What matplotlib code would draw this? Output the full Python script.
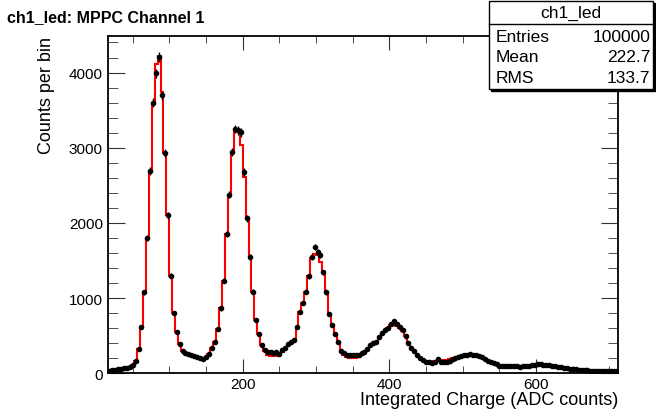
import numpy as np
import matplotlib
matplotlib.use("Agg")
import matplotlib.pyplot as plt
from matplotlib.patches import Rectangle
from matplotlib.ticker import MultipleLocator

plt.rcParams['font.family'] = ['Liberation Sans', 'DejaVu Sans']

# histogram binning (ADC counts)
bin_lo, bin_hi, bin_w = 16, 712, 4

# measured counts per bin (black points)
data_counts = [
    30, 40, 48, 55, 60, 65, 72, 90, 110, 170,
    320, 610, 1080, 1800, 2690, 3600, 3990, 4210, 3700, 2930,
    2100, 1300, 800, 545, 390, 300, 270, 255, 240, 228,
    215, 205, 195, 215, 260, 335, 412, 589, 864, 1232,
    1852, 2375, 2947, 3250, 3230, 3205, 2681, 2061, 1542, 1085,
    713, 523, 376, 314, 279, 279, 270, 285, 257, 314,
    341, 386, 412, 447, 620, 819, 935, 1085, 1290, 1542,
    1676, 1617, 1573, 1343, 1077, 789, 640, 523, 412, 300,
    270, 250, 240, 242, 243, 245, 265, 285, 320, 370,
    400, 412, 480, 540, 580, 600, 656, 695, 660, 620,
    570, 500, 400, 330, 290, 240, 205, 175, 155, 155,
    135, 150, 185, 155, 155, 150, 160, 190, 210, 212,
    235, 240, 250, 257, 245, 243, 225, 212, 185, 165,
    146, 135, 120, 101, 98, 95, 95, 92, 95, 92,
    90, 92, 95, 100, 108, 115, 124, 118, 112, 110,
    105, 98, 92, 85, 78, 72, 66, 60, 56, 52,
    48, 45, 42, 40, 37, 35, 33, 32, 31, 30,
    30, 29, 28, 27,
]

# reference histogram (red line)
ref_counts = [
    30, 40, 48, 55, 60, 65, 72, 90, 110, 170,
    320, 610, 1080, 1800, 2690, 3600, 4110, 4225, 3745, 2930,
    2100, 1300, 800, 545, 390, 300, 270, 255, 240, 228,
    215, 205, 195, 215, 260, 335, 412, 589, 864, 1232,
    1852, 2375, 2947, 3205, 3210, 3040, 2610, 2061, 1542, 1085,
    713, 523, 376, 290, 250, 235, 225, 228, 240, 280,
    330, 386, 412, 447, 620, 819, 935, 1085, 1290, 1530,
    1586, 1580, 1480, 1343, 1077, 789, 640, 523, 412, 300,
    240, 215, 205, 200, 205, 220, 250, 285, 320, 370,
    400, 412, 480, 540, 580, 600, 640, 645, 630, 600,
    560, 490, 400, 330, 290, 240, 205, 180, 165, 160,
    160, 160, 165, 170, 175, 180, 190, 200, 210, 220,
    230, 238, 245, 245, 243, 240, 225, 210, 185, 165,
    146, 135, 120, 101, 98, 95, 95, 92, 92, 92,
    90, 92, 95, 100, 106, 112, 118, 118, 114, 110,
    105, 98, 92, 85, 78, 72, 66, 60, 56, 52,
    48, 45, 42, 40, 37, 35, 33, 32, 31, 30,
    30, 29, 28, 27,
]

stats_labels = ["Entries", "Mean", "RMS"]
stats_values = ["100000", "222.7", "133.7"]

edges = np.arange(bin_lo, bin_hi + 1, bin_w)
centers = 0.5 * (edges[:-1] + edges[1:])
data = np.array(data_counts, dtype=float)
ref = np.array(ref_counts, dtype=float)

W, H = 656, 410
fig = plt.figure(figsize=(W / 100, H / 100), dpi=100)
ax = fig.add_axes([107.7 / W, 35.7 / H, 510.6 / W, 337.6 / H])

ax.stairs(ref, edges, color="red", lw=1.5, zorder=2)
ax.errorbar(centers, data, yerr=np.sqrt(data), fmt="o", ms=3.0, color="black",
            elinewidth=1.0, capsize=0, zorder=3)

ax.set_xlim(bin_lo, bin_hi)
ax.set_ylim(0, 4490)
ax.xaxis.set_major_locator(MultipleLocator(200))
ax.xaxis.set_minor_locator(MultipleLocator(50))
ax.yaxis.set_major_locator(MultipleLocator(1000))
ax.yaxis.set_minor_locator(MultipleLocator(200))
ax.tick_params(which="both", direction="in", top=True, right=True, labelsize=11,
               color="#333333")
ax.tick_params(axis="y", which="major", length=12, pad=3.5)
ax.tick_params(axis="y", which="minor", length=7)
ax.tick_params(axis="x", which="major", length=10, pad=3)
ax.tick_params(axis="x", which="minor", length=5)
for s in ax.spines.values():
    s.set_linewidth(1.3)

ax.set_xlabel("Integrated Charge (ADC counts)", fontsize=13, loc="right", labelpad=0)
ax.set_ylabel("Counts per bin", fontsize=13, loc="top", labelpad=10)

fig.text(7 / W, 1 - 18 / H, "ch1_led: MPPC Channel 1", fontsize=11.5,
         fontweight="bold", va="center", ha="left")

# stats box
bx0, by0, bx1, by1 = 489, 2, 653, 90
fig.patches.append(Rectangle((bx0 / W + 2 / W, 1 - (by1 + 2) / H), (bx1 - bx0) / W,
                             (by1 - by0) / H, transform=fig.transFigure,
                             facecolor="black", edgecolor="black", zorder=5))
fig.patches.append(Rectangle((bx0 / W, 1 - by1 / H), (bx1 - bx0) / W, (by1 - by0) / H,
                             transform=fig.transFigure, facecolor="white",
                             edgecolor="black", lw=1, zorder=6))
fig.add_artist(plt.Line2D([bx0 / W, bx1 / W], [1 - 25 / H, 1 - 25 / H],
                          transform=fig.transFigure, color="black", lw=1, zorder=7))
fig.text((bx0 + bx1) / 2 / W, 1 - 13.5 / H, "ch1_led", fontsize=12.5,
         ha="center", va="center", zorder=8)
for i, (lab, val) in enumerate(zip(stats_labels, stats_values)):
    y = 1 - (37 + 21 * i) / H
    fig.text(496 / W, y, lab, fontsize=12.5, ha="left", va="center", zorder=8)
    fig.text(650 / W, y, val, fontsize=12.5, ha="right", va="center", zorder=8)

fig.savefig("out.png", dpi=100)
